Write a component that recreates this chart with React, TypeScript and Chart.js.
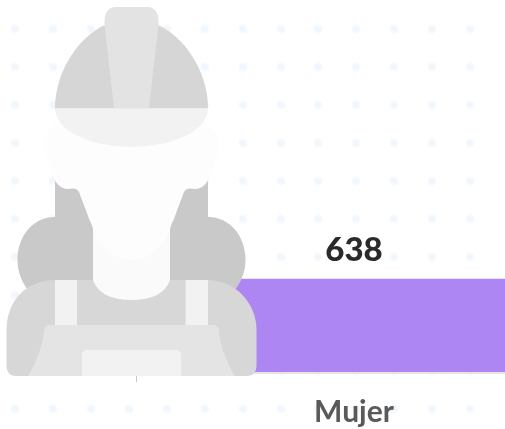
import React, { useEffect, useRef } from "react";
import { Chart, registerables } from "chart.js";

Chart.register(...registerables);

const categories = ["Mujer"];
const values = [638];
const barColor = "#ae86f4";
const fontFamily = "Lato, 'Open Sans', sans-serif";

const dotXs = [15, 53, 91, 129, 167, 205, 243, 281, 318, 356, 394, 432, 470];
const dotYs = [29, 67, 105, 143, 181, 219, 257, 295, 333, 371, 409];

const personLayers: [string, string][] = [
  ["#c9c9c9", "M55 150 L208 150 L208 217 C230 217 245.5 236 245.5 260 C245.5 272 241 282 235 290 L225 303 L38 303 L28 290 C22 282 17.5 272 17.5 260 C17.5 236 33 217 55 217 Z"],
  ["#d7d7d7", "M6.5 366 L6.5 330 C6.5 302 25 280 55 280 L208 280 C234 280 256.5 302 256.5 330 L256.5 366 Q256.5 376 246 376 L17 376 Q6.5 376 6.5 366 Z"],
  ["#f2f2f2", "M55 280 H77 V326 H55 Z"],
  ["#f2f2f2", "M185.5 280 H208 V326 H185.5 Z"],
  ["#e4e4e4", "M28 376 C38 360 44 340 44 331 Q44 325 50 325 L213 325 Q219 325 219 331 C219 340 225 360 235 376 Z"],
  ["#f2f2f2", "M82 376 V355 Q82 350 87 350 H176 Q181 350 181 355 V376 Z"],
  ["#fafafa", "M93 215 L93 280 Q100 300 131.5 300 Q163 300 170 280 L170 215 Z"],
  ["#fdfdfd", "M62 122 C50 125 44 135 44 145 C44 155 50 165 52 172 C54 182 60 189 68 189 C72 189 76 187 79 192 L88 216 C90 222 93 226 93 230 C100 250 118 260 131.5 260 C145 260 163 250 170 230 C170 226 173 222 175 216 L184 192 C187 187 191 189 195 189 C203 189 209 182 211 172 C213 165 219 155 219 145 C219 135 213 125 201 122 Z"],
  ["#d6d6d6", "M55 108.5 C55 70 80 36 105 25 L158 25 C183 36 208 70 208 108.5 Z"],
  ["#f2f2f2", "M55 108.5 H208 A76.5 38.5 0 0 1 55 108.5 Z"],
  ["#e3e3e3", "M114 108.5 L104.5 24 Q104 7 116 7 L147 7 Q159 7 158.5 24 L149 108.5 Z"],
];

const backgroundPlugin = {
  id: "dotsBackground",
  beforeDraw(chart: any) {
    const { ctx } = chart;
    ctx.save();
    ctx.filter = "blur(0.8px)";
    dotYs.forEach((y) => {
      dotXs.forEach((x) => {
        ctx.fillStyle = "#eef5fc";
        ctx.beginPath();
        ctx.arc(x, y, 3.8, 0, Math.PI * 2);
        ctx.fill();
        ctx.fillStyle = "#f7fafe";
        ctx.beginPath();
        ctx.arc(x, y, 1.3, 0, Math.PI * 2);
        ctx.fill();
      });
    });
    ctx.restore();
  },
};

const valueLabelPlugin = {
  id: "valueLabel",
  afterDatasetsDraw(chart: any) {
    const { ctx } = chart;
    const meta = chart.getDatasetMeta(0);
    ctx.save();
    ctx.font = `900 33px ${fontFamily}`;
    ctx.fillStyle = "#2a2a2a";
    ctx.textAlign = "center";
    ctx.textBaseline = "alphabetic";
    meta.data.forEach((bar: any, i: number) => {
      ctx.fillText(String(values[i]), bar.x, bar.y - 18);
    });
    ctx.restore();
  },
};

const personPlugin = {
  id: "personPicture",
  afterDraw(chart: any) {
    const { ctx } = chart;
    ctx.save();
    personLayers.forEach(([color, d]) => {
      ctx.fillStyle = color;
      ctx.fill(new Path2D(d));
    });
    ctx.restore();
  },
};

export default function App() {
  const ref = useRef<HTMLCanvasElement>(null);
  useEffect(() => {
    if (!ref.current) return;
    const chart = new Chart(ref.current, {
      type: "bar",
      data: {
        labels: categories,
        datasets: [
          {
            data: values,
            backgroundColor: barColor,
            barPercentage: 1,
            categoryPercentage: 1,
          },
        ],
      },
      options: {
        responsive: false,
        animation: false,
        layout: { padding: { left: 136, right: 68, top: 5, bottom: 0 } },
        plugins: { legend: { display: false }, tooltip: { enabled: false }, title: { display: false } },
        scales: {
          y: { display: false, min: 0, max: 2500 },
          x: {
            offset: true,
            afterFit(scale: any) {
              scale.height = 56;
            },
            grid: {
              offset: true,
              drawOnChartArea: false,
              drawTicks: true,
              tickLength: 9,
              color: "#c8c8c8",
            },
            border: { color: "#e4e4e4", width: 2, z: 1 },
            ticks: {
              padding: 12,
              color: "#5a5a5a",
              font: { family: fontFamily, size: 30, weight: "bold" },
              maxRotation: 0,
            },
          },
        },
      },
      plugins: [backgroundPlugin, valueLabelPlugin, personPlugin],
    } as any);
    return () => chart.destroy();
  }, []);
  return (
    <div style={{ position: "absolute", left: 0, top: 0, width: 505, height: 429, overflow: "hidden", background: "#fff" }}>
      <canvas ref={ref} width={640} height={429} style={{ display: "block" }} />
    </div>
  );
}
